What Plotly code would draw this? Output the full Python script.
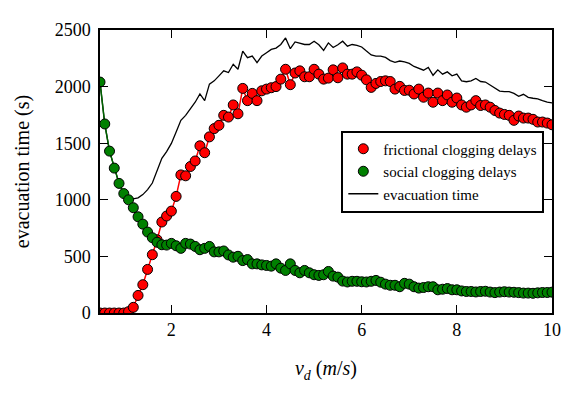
import plotly.graph_objects as go

# driving speed v_d (m/s), sampled every 0.1
v_d = [0.5, 0.6, 0.7, 0.8, 0.9, 1.0,
       1.1, 1.2, 1.3, 1.4, 1.5, 1.6, 1.7, 1.8, 1.9, 2.0,
       2.1, 2.2, 2.3, 2.4, 2.5, 2.6, 2.7, 2.8, 2.9, 3.0,
       3.1, 3.2, 3.3, 3.4, 3.5, 3.6, 3.7, 3.8, 3.9, 4.0,
       4.1, 4.2, 4.3, 4.4, 4.5, 4.6, 4.7, 4.8, 4.9, 5.0,
       5.1, 5.2, 5.3, 5.4, 5.5, 5.6, 5.7, 5.8, 5.9, 6.0,
       6.1, 6.2, 6.3, 6.4, 6.5, 6.6, 6.7, 6.8, 6.9, 7.0,
       7.1, 7.2, 7.3, 7.4, 7.5, 7.6, 7.7, 7.8, 7.9, 8.0,
       8.1, 8.2, 8.3, 8.4, 8.5, 8.6, 8.7, 8.8, 8.9, 9.0,
       9.1, 9.2, 9.3, 9.4, 9.5, 9.6, 9.7, 9.8, 9.9, 10.0]

frictional = [0, 0, 0, 0, 0, 0,
              12, 50, 155, 250, 385, 515, 647, 804, 857, 900,
              1030, 1220, 1212, 1294, 1343, 1477, 1416, 1556, 1629, 1658,
              1746, 1731, 1838, 1760, 1984, 1876, 1940, 1876, 1963, 1978,
              1990, 2000, 2066, 2153, 2017, 2120, 2139, 2087, 2087, 2153,
              2110, 2066, 2075, 2148, 2078, 2165, 2110, 2110, 2130, 2101,
              2060, 1993, 2028, 2045, 2051, 2045, 1978, 2002, 1966, 1968,
              1935, 1978, 1906, 1943, 1862, 1943, 1876, 1926, 1862, 1899,
              1838, 1818, 1838, 1876, 1833, 1838, 1818, 1789, 1766, 1754,
              1746, 1702, 1740, 1722, 1722, 1711, 1687, 1687, 1678, 1663]

social = [2040, 1670, 1430, 1280, 1145, 1055,
          1000, 930, 850, 785, 715, 665, 625, 603, 600, 615,
          594, 571, 615, 609, 588, 559, 571, 588, 540, 540,
          548, 513, 493, 501, 463, 472, 434, 434, 425, 420,
          414, 434, 396, 376, 434, 376, 355, 376, 355, 338,
          332, 338, 367, 326, 317, 282, 274, 280, 280, 276,
          274, 280, 288, 272, 255, 245, 245, 232, 262, 255,
          232, 220, 225, 232, 232, 205, 210, 216, 205, 205,
          195, 190, 190, 186, 190, 192, 185, 180, 185, 188,
          185, 183, 180, 176, 176, 174, 178, 181, 181, 184]

evac = [2040, 1670, 1430, 1280, 1145, 1055,
        1010, 1008, 1017, 1046, 1090, 1148, 1250, 1366, 1425, 1498,
        1600, 1702, 1746, 1804, 1862, 1935, 1876, 2022, 2051, 2095,
        2139, 2124, 2197, 2153, 2314, 2255, 2270, 2212, 2270, 2299,
        2328, 2340, 2372, 2430, 2335, 2395, 2380, 2372, 2372, 2401,
        2370, 2320, 2386, 2345, 2370, 2401, 2357, 2372, 2365, 2350,
        2314, 2280, 2270, 2270, 2258, 2230, 2215, 2226, 2218, 2205,
        2178, 2160, 2145, 2170, 2100, 2148, 2110, 2130, 2095, 2110,
        2051, 2043, 2051, 2072, 2045, 2040, 2015, 1985, 1960, 1955,
        1955, 1940, 1914, 1932, 1905, 1897, 1891, 1876, 1862, 1856]

serif = "Liberation Serif"

fig = go.Figure()

# black line goes underneath everything
fig.add_trace(go.Scatter(x=v_d, y=evac, mode="lines", name="evacuation time",
                         line=dict(color="black", width=1.3), legendrank=3))
fig.add_trace(go.Scatter(x=v_d, y=frictional, mode="lines", showlegend=False,
                         line=dict(color="red", width=1.5)))
fig.add_trace(go.Scatter(x=v_d, y=social, mode="lines", showlegend=False,
                         line=dict(color="#006400", width=1.5)))
fig.add_trace(go.Scatter(x=v_d, y=frictional, mode="markers", name="frictional clogging delays",
                         marker=dict(color="red", size=10, line=dict(color="black", width=1)),
                         legendrank=1))
fig.add_trace(go.Scatter(x=v_d, y=social, mode="markers", name="social clogging delays",
                         marker=dict(color="#008000", size=10, line=dict(color="black", width=1)),
                         legendrank=2))

axis_style = dict(showline=True, linecolor="black", linewidth=1.5, mirror="ticks",
                  ticks="inside", ticklen=8, tickwidth=1, tickcolor="black",
                  showgrid=False, zeroline=False,
                  tickfont=dict(family=serif, size=18, color="black"))

fig.update_xaxes(range=[0.5, 10], tickvals=[2, 4, 6, 8, 10],
                 title=dict(text="<i>v</i><sub><i>d</i></sub> (<i>m</i>/<i>s</i>)",
                            font=dict(family=serif, size=20, color="black"), standoff=22),
                 **axis_style)
fig.update_yaxes(range=[0, 2500], tickvals=[0, 500, 1000, 1500, 2000, 2500],
                 ticklabelstandoff=4,
                 title=dict(text="evacuation time (s)",
                            font=dict(family=serif, size=20, color="black"), standoff=20),
                 **axis_style)

# page body adds an 8px offset, margins compensate for it
fig.update_layout(
    width=581, height=394,
    margin=dict(l=92, r=37, t=19, b=89),
    paper_bgcolor="white", plot_bgcolor="white",
    legend=dict(x=0.983, y=0.5, xanchor="right", yanchor="middle",
                bgcolor="white", bordercolor="black", borderwidth=2,
                font=dict(family=serif, size=15, color="black"),
                tracegroupgap=0),
)

fig.write_html("out.html")
